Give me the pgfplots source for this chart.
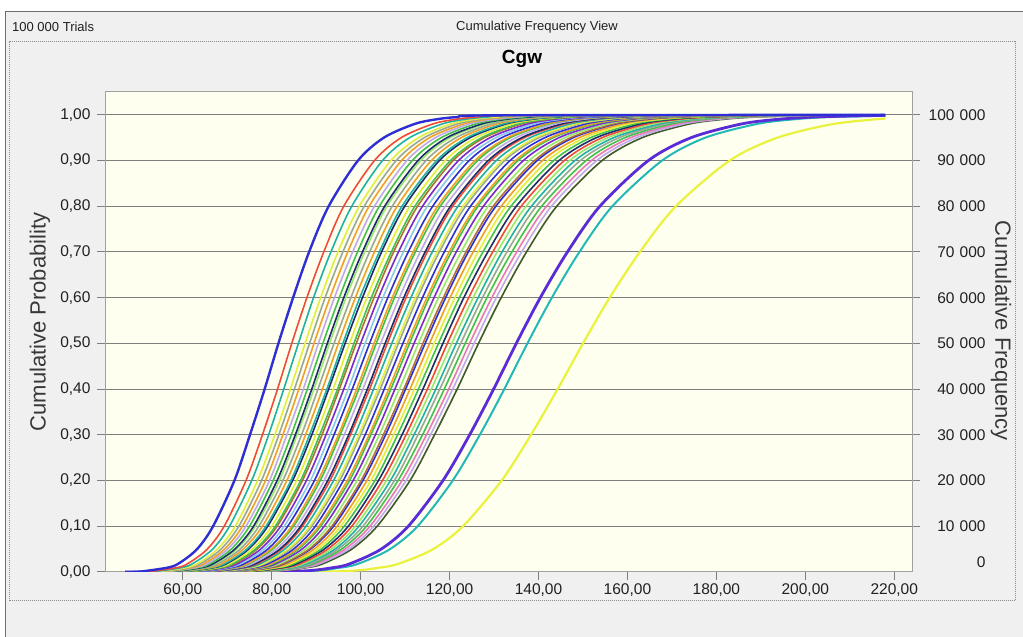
\documentclass[border=0pt]{standalone}
\usepackage{fontspec}
\setmainfont{Liberation Sans}
\usepackage{pgfplots}
\pgfplotsset{compat=1.18}

% window and axis colours
\definecolor{winbg}{HTML}{F0F0F0}
\definecolor{winedge}{HTML}{6E6E6E}
\definecolor{dotC}{HTML}{8C8C8C}
\definecolor{plotbg}{HTML}{FFFFF0}
\definecolor{frameC}{HTML}{A0A0A0}
\definecolor{gridC}{HTML}{7F7F7F}
\definecolor{tickC}{HTML}{202020}
\definecolor{labelC}{HTML}{383838}
% forecast colours
\definecolor{cBlue}{HTML}{2E2ED6}
\definecolor{cRed}{HTML}{F04A3A}
\definecolor{cTeal}{HTML}{20B0A6}
\definecolor{cYellow}{HTML}{E2EE3C}
\definecolor{cGray}{HTML}{98A898}
\definecolor{cOrange}{HTML}{F0A028}
\definecolor{cLav}{HTML}{C0A8F0}
\definecolor{cGreen}{HTML}{40C04C}
\definecolor{cNavy}{HTML}{1C2C6C}
\definecolor{cLGreen}{HTML}{98E870}
\definecolor{cPurple}{HTML}{7A2AD0}
\definecolor{cOlive}{HTML}{3E5A2A}
\definecolor{cBrown}{HTML}{B07038}
\definecolor{cLBlue}{HTML}{88C8F0}
\definecolor{cPink}{HTML}{E878B8}
\definecolor{cViolet}{HTML}{5A2CD8}
\definecolor{cCyan}{HTML}{22B8B8}
\definecolor{cLime}{HTML}{EAF23E}

\newcommand{\tickfont}{\fontsize{15.5}{18}\selectfont}
\newcommand{\labelfont}{\fontsize{22}{26}\selectfont}

\begin{document}
\begin{tikzpicture}
% window
\fill[white] (0,0) rectangle (1023pt,637pt);
\fill[winbg] (5pt,0) rectangle (1023pt,625pt);
\draw[winedge, line width=1pt] (5pt,0) -- (5pt,625pt) -- (1023pt,625pt);
\draw[dotC, densely dotted, line width=1pt] (9pt,36pt) rectangle (1015pt,595pt);
\node[anchor=west, font=\fontsize{13}{15}\selectfont, text=tickC, inner sep=0pt] at (12pt,610pt) {100 000 Trials};
\node[font=\fontsize{13}{15}\selectfont, text=tickC] at (537pt,610pt) {Cumulative Frequency View};
\node[font=\bfseries\fontsize{19}{22}\selectfont, text=black] at (522pt,578pt) {Cgw};

\begin{axis}[
  at={(105pt,65pt)}, anchor=south west,
  scale only axis, width=807pt, height=480pt,
  xmin=42.5, xmax=224, ymin=0, ymax=1.05,
  axis background/.style={fill=plotbg},
  axis line style={draw=frameC, line width=1pt},
  xtick={60,80,100,120,140,160,180,200,220},
  ytick={0,0.1,0.2,0.3,0.4,0.5,0.6,0.7,0.8,0.9,1},
  xtick pos=left, ytick pos=left,
  tick align=outside, major tick length=8pt,
  tick style={draw=gridC, line width=1pt},
  ymajorgrids,
  major grid style={draw=gridC, line width=1pt},
  tick label style={font=\tickfont, text=tickC},
  xticklabel style={/pgf/number format/.cd, fixed, fixed zerofill, precision=2, use comma, assume math mode=true},
  yticklabel style={xshift=-3pt, /pgf/number format/.cd, fixed, fixed zerofill, precision=2, use comma, assume math mode=true},
  every axis plot/.append style={smooth, line width=1.6pt, line join=round},
]
% outlying forecasts
\addplot[cLime, line width=2.2pt] coordinates {(47,0)(93,.001)(104.6,.01)(109.1,.02)(116.3,.05)(123,.1)(131.7,.2)(138.3,.3)(144.3,.4)(150,.5)(156,.6)(162.8,.7)(170.9,.8)(183,.9)(193.7,.95)(206.3,.98)(218,.992)};
\addplot[cCyan, line width=2pt] coordinates {(47,0)(85.3,.001)(95.8,.01)(100,.02)(106.6,.05)(112.8,.1)(120.7,.2)(126.8,.3)(132.3,.4)(137.5,.5)(143,.6)(149.2,.7)(156.6,.8)(167.8,.9)(177.5,.95)(189.1,.98)(197.2,.99)(205,.995)(218,.998)};
\addplot[cViolet, line width=2.8pt] coordinates {(47,0)(83.7,.001)(94.1,.01)(98.1,.02)(104.6,.05)(110.7,.1)(118.5,.2)(124.5,.3)(129.9,.4)(135,.5)(140.4,.6)(146.5,.7)(153.8,.8)(164.7,.9)(174.3,.95)(185.6,.98)(193.6,.99)(201.3,.995)(208,.997)(218,.999)};
% main group of forecasts, right to left
\addplot[cOlive] coordinates {(47,0)(78.4,.001)(88.2,.01)(92,.02)(98,.05)(103.7,.1)(111.1,.2)(116.6,.3)(121.7,.4)(126.5,.5)(131.6,.6)(137.3,.7)(144.1,.8)(154.3,.9)(163.3,.95)(173.9,.98)(181.4,.99)(188.6,.995)(204.2,.999)(218,1)};
\addplot[cLav] coordinates {(47,0)(77.8,.001)(87.5,.01)(91.2,.02)(97.3,.05)(102.9,.1)(110.2,.2)(115.7,.3)(120.7,.4)(125.5,.5)(130.5,.6)(136.2,.7)(142.9,.8)(153.1,.9)(162,.95)(172.6,.98)(180,.99)(187.1,.995)(202.6,.999)(218,1)};
\addplot[cPink] coordinates {(47,0)(77.2,.001)(86.8,.01)(90.5,.02)(96.5,.05)(102.1,.1)(109.3,.2)(114.8,.3)(119.8,.4)(124.5,.5)(129.5,.6)(135.1,.7)(141.8,.8)(151.9,.9)(160.7,.95)(171.2,.98)(178.5,.99)(185.6,.995)(200.9,.999)(218,1)};
\addplot[cGreen] coordinates {(47,0)(76.6,.001)(86.1,.01)(89.8,.02)(95.7,.05)(101.3,.1)(108.4,.2)(113.9,.3)(118.8,.4)(123.5,.5)(128.4,.6)(134,.7)(140.7,.8)(150.7,.9)(159.4,.95)(169.8,.98)(177.1,.99)(184.1,.995)(199.3,.999)(218,1)};
\addplot[cGray] coordinates {(47,0)(76,.001)(85.4,.01)(89.1,.02)(94.9,.05)(100.5,.1)(107.6,.2)(112.9,.3)(117.8,.4)(122.5,.5)(127.4,.6)(132.9,.7)(139.5,.8)(149.4,.9)(158.1,.95)(168.4,.98)(175.7,.99)(182.6,.995)(197.7,.999)(218,1)};
\addplot[cTeal] coordinates {(47,0)(75.3,.001)(84.7,.01)(88.3,.02)(94.2,.05)(99.6,.1)(106.7,.2)(112,.3)(116.9,.4)(121.5,.5)(126.4,.6)(131.8,.7)(138.4,.8)(148.2,.9)(156.9,.95)(167.1,.98)(174.2,.99)(181.2,.995)(196.1,.999)(218,1)};
\addplot[cLGreen] coordinates {(47,0)(74.7,.001)(84,.01)(87.6,.02)(93.4,.05)(98.8,.1)(105.8,.2)(111.1,.3)(115.9,.4)(120.5,.5)(125.3,.6)(130.7,.7)(137.2,.8)(147,.9)(155.6,.95)(165.7,.98)(172.8,.99)(179.7,.995)(194.5,.999)(218,1)};
\addplot[cRed] coordinates {(47,0)(74.1,.001)(83.3,.01)(86.9,.02)(92.6,.05)(98,.1)(104.9,.2)(110.2,.3)(115,.4)(119.5,.5)(124.3,.6)(129.7,.7)(136.1,.8)(145.8,.9)(154.3,.95)(164.3,.98)(171.4,.99)(178.2,.995)(192.9,.999)(218,1)};
\addplot[cNavy] coordinates {(47,0)(73.5,.001)(82.6,.01)(86.1,.02)(91.8,.05)(97.2,.1)(104,.2)(109.3,.3)(114,.4)(118.5,.5)(123.2,.6)(128.6,.7)(135,.8)(144.6,.9)(153,.95)(162.9,.98)(169.9,.99)(176.7,.995)(191.3,.999)(218,1)};
\addplot[cGreen] coordinates {(47,0)(72.9,.001)(81.9,.01)(85.4,.02)(91.1,.05)(96.3,.1)(103.2,.2)(108.3,.3)(113,.4)(117.5,.5)(122.2,.6)(127.5,.7)(133.8,.8)(143.4,.9)(151.7,.95)(161.6,.98)(168.5,.99)(175.2,.995)(189.6,.999)(218,1)};
\addplot[cYellow] coordinates {(47,0)(72.2,.001)(81.2,.01)(84.7,.02)(90.3,.05)(95.5,.1)(102.3,.2)(107.4,.3)(112.1,.4)(116.5,.5)(121.2,.6)(126.4,.7)(132.7,.8)(142.1,.9)(150.4,.95)(160.2,.98)(167.1,.99)(173.7,.995)(188,.999)(218,1)};
\addplot[cOrange] coordinates {(47,0)(71.6,.001)(80.5,.01)(84,.02)(89.5,.05)(94.7,.1)(101.4,.2)(106.5,.3)(111.1,.4)(115.5,.5)(120.1,.6)(125.3,.7)(131.6,.8)(140.9,.9)(149.1,.95)(158.8,.98)(165.6,.99)(172.2,.995)(186.4,.999)(218,1)};
\addplot[cBlue] coordinates {(47,0)(71,.001)(79.8,.01)(83.2,.02)(88.7,.05)(93.9,.1)(100.5,.2)(105.6,.3)(110.1,.4)(114.5,.5)(119.1,.6)(124.2,.7)(130.4,.8)(139.7,.9)(147.8,.95)(157.4,.98)(164.2,.99)(170.7,.995)(184.8,.999)(218,1)};
\addplot[cBrown] coordinates {(47,0)(70.7,.001)(79.5,.01)(82.9,.02)(88.4,.05)(93.5,.1)(100.1,.2)(105.1,.3)(109.7,.4)(114,.5)(118.6,.6)(123.7,.7)(129.8,.8)(139.1,.9)(147.2,.95)(156.8,.98)(163.5,.99)(170,.995)(184,.999)(218,1)};
\addplot[cLGreen] coordinates {(47,0)(70.1,.001)(78.8,.01)(82.2,.02)(87.6,.05)(92.7,.1)(99.2,.2)(104.2,.3)(108.7,.4)(113,.5)(117.5,.6)(122.6,.7)(128.7,.8)(137.9,.9)(145.9,.95)(155.4,.98)(162,.99)(168.5,.995)(182.4,.999)(218,1)};
\addplot[cPurple] coordinates {(47,0)(69.4,.001)(78.1,.01)(81.4,.02)(86.8,.05)(91.8,.1)(98.3,.2)(103.3,.3)(107.7,.4)(112,.5)(116.5,.6)(121.5,.7)(127.6,.8)(136.6,.9)(144.6,.95)(154,.98)(160.6,.99)(167,.995)(180.8,.999)(218,1)};
\addplot[cGreen] coordinates {(47,0)(68.8,.001)(77.4,.01)(80.7,.02)(86,.05)(91,.1)(97.5,.2)(102.3,.3)(106.8,.4)(111,.5)(115.4,.6)(120.4,.7)(126.4,.8)(135.4,.9)(143.3,.95)(152.6,.98)(159.2,.99)(165.5,.995)(179.2,.999)(218,1)};
\addplot[cOrange] coordinates {(47,0)(68.5,.001)(77,.01)(80.3,.02)(85.6,.05)(90.6,.1)(97,.2)(101.9,.3)(106.3,.4)(110.5,.5)(114.9,.6)(119.9,.7)(125.9,.8)(134.8,.9)(142.7,.95)(151.9,.98)(158.5,.99)(164.8,.995)(178.3,.999)(218,1)};
\addplot[cBlue] coordinates {(47,0)(67.9,.001)(76.3,.01)(79.6,.02)(84.9,.05)(89.8,.1)(96.1,.2)(101,.3)(105.3,.4)(109.5,.5)(113.9,.6)(118.8,.7)(124.7,.8)(133.6,.9)(141.4,.95)(150.6,.98)(157,.99)(163.3,.995)(176.7,.999)(218,1)};
\addplot[cGray] coordinates {(47,0)(67.3,.001)(75.6,.01)(78.9,.02)(84.1,.05)(89,.1)(95.3,.2)(100,.3)(104.4,.4)(108.5,.5)(112.8,.6)(117.7,.7)(123.6,.8)(132.4,.9)(140.1,.95)(149.2,.98)(155.6,.99)(161.8,.995)(175.1,.999)(218,1)};
\addplot[cYellow] coordinates {(47,0)(67,.001)(75.3,.01)(78.5,.02)(83.7,.05)(88.6,.1)(94.8,.2)(99.6,.3)(103.9,.4)(108,.5)(112.3,.6)(117.2,.7)(123,.8)(131.8,.9)(139.4,.95)(148.5,.98)(154.9,.99)(161,.995)(174.3,.999)(218,1)};
\addplot[cTeal] coordinates {(47,0)(66.3,.001)(74.6,.01)(77.8,.02)(82.9,.05)(87.7,.1)(93.9,.2)(98.7,.3)(102.9,.4)(107,.5)(111.3,.6)(116.1,.7)(121.9,.8)(130.5,.9)(138.1,.95)(147.1,.98)(153.4,.99)(159.5,.995)(172.7,.999)(218,1)};
\addplot[cRed] coordinates {(47,0)(65.7,.001)(73.9,.01)(77.1,.02)(82.2,.05)(86.9,.1)(93.1,.2)(97.7,.3)(102,.4)(106,.5)(110.2,.6)(115,.7)(120.7,.8)(129.3,.9)(136.8,.95)(145.8,.98)(152,.99)(158,.995)(171.1,.999)(218,1)};
\addplot[cNavy] coordinates {(47,0)(65.4,.001)(73.5,.01)(76.7,.02)(81.8,.05)(86.5,.1)(92.6,.2)(97.3,.3)(101.5,.4)(105.5,.5)(109.7,.6)(114.5,.7)(120.2,.8)(128.7,.9)(136.2,.95)(145.1,.98)(151.3,.99)(157.3,.995)(170.3,.999)(218,1)};
\addplot[cLav] coordinates {(47,0)(64.8,.001)(72.8,.01)(76,.02)(81,.05)(85.7,.1)(91.8,.2)(96.3,.3)(100.5,.4)(104.5,.5)(108.7,.6)(113.4,.7)(119,.8)(127.5,.9)(134.9,.95)(143.7,.98)(149.9,.99)(155.8,.995)(168.7,.999)(218,1)};
\addplot[cGreen] coordinates {(47,0)(64.2,.001)(72.1,.01)(75.2,.02)(80.2,.05)(84.9,.1)(90.9,.2)(95.4,.3)(99.6,.4)(103.5,.5)(107.6,.6)(112.3,.7)(117.9,.8)(126.3,.9)(133.6,.95)(142.3,.98)(148.4,.99)(154.3,.995)(167,.999)(218,1)};
\addplot[cOrange] coordinates {(47,0)(63.9,.001)(71.8,.01)(74.9,.02)(79.8,.05)(84.5,.1)(90.4,.2)(95,.3)(99.1,.4)(103,.5)(107.1,.6)(111.8,.7)(117.3,.8)(125.7,.9)(133,.95)(141.6,.98)(147.7,.99)(153.6,.995)(166.2,.999)(218,1)};
\addplot[cBlue] coordinates {(47,0)(63.2,.001)(71.1,.01)(74.2,.02)(79.1,.05)(83.6,.1)(89.6,.2)(94,.3)(98.1,.4)(102,.5)(106.1,.6)(110.7,.7)(116.2,.8)(124.4,.9)(131.7,.95)(140.3,.98)(146.3,.99)(152.1,.995)(164.6,.999)(218,1)};
\addplot[cLBlue] coordinates {(47,0)(62.6,.001)(70.4,.01)(73.4,.02)(78.3,.05)(82.8,.1)(88.7,.2)(93.1,.3)(97.2,.4)(101,.5)(105,.6)(109.6,.7)(115,.8)(123.2,.9)(130.4,.95)(138.9,.98)(144.8,.99)(150.6,.995)(163,.999)(218,1)};
\addplot[cPurple] coordinates {(47,0)(62,.001)(69.7,.01)(72.7,.02)(77.5,.05)(82,.1)(87.8,.2)(92.2,.3)(96.2,.4)(100,.5)(104,.6)(108.5,.7)(113.9,.8)(122,.9)(129.1,.95)(137.5,.98)(143.4,.99)(149.1,.995)(161.4,.999)(218,1)};
\addplot[cBrown] coordinates {(47,0)(61.4,.001)(69,.01)(72,.02)(76.7,.05)(81.2,.1)(86.9,.2)(91.3,.3)(95.2,.4)(99,.5)(103,.6)(107.4,.7)(112.8,.8)(120.8,.9)(127.8,.95)(136.1,.98)(142,.99)(147.6,.995)(159.8,.999)(218,1)};
\addplot[cGreen] coordinates {(47,0)(61.1,.001)(68.7,.01)(71.6,.02)(76.3,.05)(80.8,.1)(86.5,.2)(90.8,.3)(94.8,.4)(98.5,.5)(102.4,.6)(106.9,.7)(112.2,.8)(120.2,.9)(127.2,.95)(135.4,.98)(141.2,.99)(146.9,.995)(159,.999)(218,1)};
\addplot[cYellow] coordinates {(47,0)(60.5,.001)(68,.01)(70.9,.02)(75.6,.05)(80,.1)(85.6,.2)(89.9,.3)(93.8,.4)(97.5,.5)(101.4,.6)(105.8,.7)(111.1,.8)(119,.9)(125.9,.95)(134.1,.98)(139.8,.99)(145.4,.995)(157.4,.999)(218,1)};
\addplot[cNavy] coordinates {(47,0)(59.8,.001)(67.3,.01)(70.2,.02)(74.8,.05)(79.1,.1)(84.7,.2)(89,.3)(92.8,.4)(96.5,.5)(100.4,.6)(104.7,.7)(109.9,.8)(117.7,.9)(124.6,.95)(132.7,.98)(138.4,.99)(143.9,.995)(155.8,.999)(218,1)};
\addplot[cTeal] coordinates {(47,0)(59.5,.001)(66.9,.01)(69.8,.02)(74.4,.05)(78.7,.1)(84.3,.2)(88.5,.3)(92.4,.4)(96,.5)(99.8,.6)(104.2,.7)(109.3,.8)(117.1,.9)(123.9,.95)(132,.98)(137.7,.99)(143.1,.995)(154.9,.999)(218,1)};
\addplot[cOrange] coordinates {(47,0)(58.9,.001)(66.2,.01)(69.1,.02)(73.6,.05)(77.9,.1)(83.4,.2)(87.6,.3)(91.4,.4)(95,.5)(98.8,.6)(103.1,.7)(108.2,.8)(115.9,.9)(122.6,.95)(130.6,.98)(136.2,.99)(141.6,.995)(153.3,.999)(218,1)};
\addplot[cGray] coordinates {(47,0)(58.3,.001)(65.5,.01)(68.3,.02)(72.9,.05)(77.1,.1)(82.5,.2)(86.7,.3)(90.4,.4)(94,.5)(97.8,.6)(102,.7)(107.1,.8)(114.7,.9)(121.4,.95)(129.3,.98)(134.8,.99)(140.2,.995)(151.7,.999)(218,1)};
\addplot[cLGreen] coordinates {(47,0)(57.7,.001)(64.8,.01)(67.6,.02)(72.1,.05)(76.3,.1)(81.7,.2)(85.7,.3)(89.5,.4)(93,.5)(96.7,.6)(100.9,.7)(105.9,.8)(113.5,.9)(120.1,.95)(127.9,.98)(133.4,.99)(138.7,.995)(150.1,.999)(218,1)};
\addplot[cNavy] coordinates {(47,0)(57.4,.001)(64.5,.01)(67.2,.02)(71.7,.05)(75.9,.1)(81.2,.2)(85.3,.3)(89,.4)(92.5,.5)(96.2,.6)(100.4,.7)(105.4,.8)(112.9,.9)(119.4,.95)(127.2,.98)(132.6,.99)(137.9,.995)(149.3,.999)(218,1)};
\addplot[cGreen] coordinates {(47,0)(56.7,.001)(63.8,.01)(66.5,.02)(70.9,.05)(75,.1)(80.3,.2)(84.4,.3)(88,.4)(91.5,.5)(95.2,.6)(99.3,.7)(104.2,.8)(111.6,.9)(118.1,.95)(125.8,.98)(131.2,.99)(136.4,.995)(147.7,.999)(218,1)};
\addplot[cLav] coordinates {(47,0)(56.1,.001)(63.1,.01)(65.8,.02)(70.1,.05)(74.2,.1)(79.5,.2)(83.4,.3)(87.1,.4)(90.5,.5)(94.1,.6)(98.2,.7)(103.1,.8)(110.4,.9)(116.8,.95)(124.4,.98)(129.8,.99)(134.9,.995)(146.1,.999)(218,1)};
\addplot[cOrange] coordinates {(47,0)(55.5,.001)(62.4,.01)(65.1,.02)(69.4,.05)(73.4,.1)(78.6,.2)(82.5,.3)(86.1,.4)(89.5,.5)(93.1,.6)(97.1,.7)(101.9,.8)(109.2,.9)(115.5,.95)(123.1,.98)(128.3,.99)(133.4,.995)(144.5,.999)(218,1)};
\addplot[cGray] coordinates {(47,0)(54.9,.001)(61.7,.01)(64.3,.02)(68.6,.05)(72.6,.1)(77.7,.2)(81.6,.3)(85.1,.4)(88.5,.5)(92,.6)(96,.7)(100.8,.8)(108,.9)(114.3,.95)(121.7,.98)(126.9,.99)(132,.995)(142.8,.999)(218,1)};
\addplot[cYellow] coordinates {(47,0)(54.3,.001)(61,.01)(63.6,.02)(67.8,.05)(71.8,.1)(76.8,.2)(80.7,.3)(84.2,.4)(87.5,.5)(91,.6)(94.9,.7)(99.7,.8)(106.8,.9)(113,.95)(120.3,.98)(125.5,.99)(130.5,.995)(141.2,.999)(218,1)};
\addplot[cTeal] coordinates {(47,0)(53.3,.001)(59.9,.01)(62.5,.02)(66.7,.05)(70.5,.1)(75.5,.2)(79.3,.3)(82.7,.4)(86,.5)(89.4,.6)(93.3,.7)(98,.8)(104.9,.9)(111,.95)(118.3,.98)(123.3,.99)(128.2,.995)(138.8,.999)(218,1)};
\addplot[cRed] coordinates {(47,0)(52.4,.001)(58.9,.01)(61.4,.02)(65.5,.05)(69.3,.1)(74.2,.2)(77.9,.3)(81.3,.4)(84.5,.5)(87.9,.6)(91.7,.7)(96.2,.8)(103.1,.9)(109.1,.95)(116.2,.98)(121.2,.99)(126,.995)(136.4,.999)(218,1)};
\addplot[cBlue, line width=2.4pt] coordinates {(47,0)(50.5,.001)(56.8,.01)(59.3,.02)(63.2,.05)(66.8,.1)(71.6,.2)(75.1,.3)(78.4,.4)(81.5,.5)(84.8,.6)(88.4,.7)(92.8,.8)(99.4,.9)(105.2,.95)(112.1,.98)(116.9,.99)(121.5,.995)(131.5,.999)(218,1)};
\end{axis}

% right-hand frequency scale
\begin{axis}[
  at={(105pt,65pt)}, anchor=south west,
  scale only axis, width=807pt, height=480pt,
  xmin=42.5, xmax=224, ymin=0, ymax=105000,
  axis x line=none, axis y line*=right,
  axis line style={draw=frameC, line width=1pt},
  ytick={10000,20000,30000,40000,50000,60000,70000,80000,90000,100000},
  scaled y ticks=false,
  tick align=outside, major tick length=8pt,
  tick style={draw=gridC, line width=1pt},
  yticklabel style={font=\tickfont, text=tickC, text width=62pt, align=right,
    /pgf/number format/.cd, fixed, precision=0, 1000 sep={\ }, assume math mode=true},
]
\end{axis}

\node[anchor=east, font=\tickfont, text=tickC] at (989pt,75pt) {0};
\node[rotate=90, font=\labelfont, text=labelC] at (40pt,315pt) {Cumulative Probability};
\node[rotate=-90, font=\labelfont, text=labelC] at (1001pt,306pt) {Cumulative Frequency};

\pgfresetboundingbox
\useasboundingbox (0,0) rectangle (1023pt,637pt);
\end{tikzpicture}
\end{document}
